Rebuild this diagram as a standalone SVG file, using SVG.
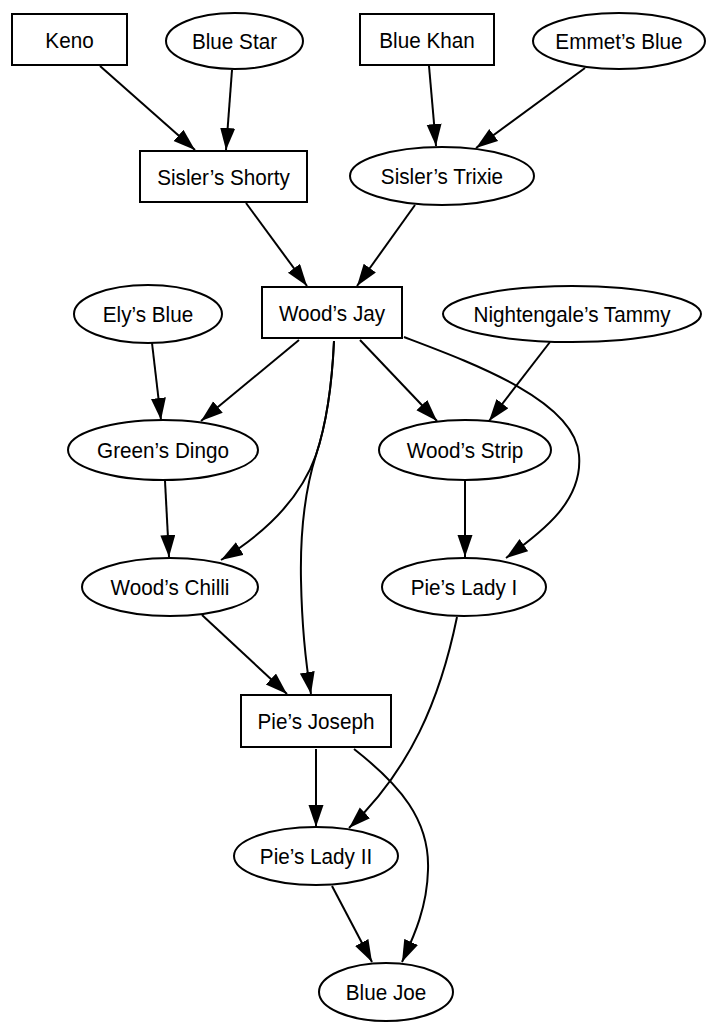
<svg xmlns="http://www.w3.org/2000/svg" width="707" height="1023" viewBox="0 0 707 1023">
<style>
.n{fill:#fff;stroke:#000;stroke-width:2}
.t{font-family:"Liberation Sans",Arial,sans-serif;font-size:22.5px;fill:#000;text-anchor:middle}
.e{fill:none;stroke:#000;stroke-width:2;marker-end:url(#ah)}
</style>
<defs>
<marker id="ah" markerUnits="userSpaceOnUse" markerWidth="23" markerHeight="16" refX="22" refY="7.5" orient="auto">
<path d="M0,0 L22,7.5 L0,15 z" fill="#000"/>
</marker>
</defs>
<rect width="707" height="1023" fill="#fff"/>
<g id="connectors">
<path class="e" d="M100,66 L195,150"/>
<path class="e" d="M232,70 L226,150"/>
<path class="e" d="M429,66 L436,146"/>
<path class="e" d="M585,68 L476,148"/>
<path class="e" d="M246,203 L307,286"/>
<path class="e" d="M415,205 L357,286"/>
<path class="e" d="M152,343 L161,420"/>
<path class="e" d="M299,340 L201,421"/>
<path class="e" d="M360,340 L437,421"/>
<path class="e" d="M550,342 L489,421"/>
<path class="e" d="M334,341 C332,385 326,425 316,455 C300,500 262,535 221,560"/>
<path class="e" d="M334,341 C332,385 326,425 316,455 C305,490 300,530 301,580 C302,630 306,665 311,694"/>
<path class="e" d="M165,481 L169,557"/>
<path class="e" d="M465,481 L465,557"/>
<path class="e" d="M404,337 C470,362 575,400 579,455 C583,500 545,530 506,558"/>
<path class="e" d="M202,615 L287,694"/>
<path class="e" d="M457,617 C440,700 410,770 349,828"/>
<path class="e" d="M316,749 L316,827"/>
<path class="e" d="M354,749 C400,785 430,820 428,870 C427,910 412,940 402,962"/>
<path class="e" d="M332,886 L372,962"/>
</g>
<g id="keno"><rect class="n" x="12" y="14" width="115" height="51"/><text class="t" transform="translate(69.5,47.5) scale(0.92,1)">Keno</text></g>
<g id="blue-star"><ellipse class="n" cx="234.5" cy="41" rx="68.5" ry="28"/><text class="t" transform="translate(234.5,48.5) scale(0.92,1)">Blue Star</text></g>
<g id="blue-khan"><rect class="n" x="360" y="14" width="134" height="51"/><text class="t" transform="translate(427,47.5) scale(0.92,1)">Blue Khan</text></g>
<g id="emmets-blue"><ellipse class="n" cx="619" cy="41" rx="86" ry="28"/><text class="t" transform="translate(619,48.5) scale(0.92,1)">Emmet’s Blue</text></g>
<g id="sislers-shorty"><rect class="n" x="140" y="151" width="167" height="51"/><text class="t" transform="translate(223.5,184.5) scale(0.92,1)">Sisler’s Shorty</text></g>
<g id="sislers-trixie"><ellipse class="n" cx="442" cy="176" rx="92" ry="29"/><text class="t" transform="translate(442,183.5) scale(0.92,1)">Sisler’s Trixie</text></g>
<g id="woods-jay"><rect class="n" x="262" y="287" width="140" height="51"/><text class="t" transform="translate(332,320.5) scale(0.92,1)">Wood’s Jay</text></g>
<g id="elys-blue"><ellipse class="n" cx="148" cy="314" rx="74" ry="29"/><text class="t" transform="translate(148,321.5) scale(0.92,1)">Ely’s Blue</text></g>
<g id="nightengales-tammy"><ellipse class="n" cx="572" cy="314" rx="129" ry="28"/><text class="t" transform="translate(572,321.5) scale(0.92,1)">Nightengale’s Tammy</text></g>
<g id="greens-dingo"><ellipse class="n" cx="163" cy="450" rx="95" ry="30"/><text class="t" transform="translate(163,457.5) scale(0.92,1)">Green’s Dingo</text></g>
<g id="woods-strip"><ellipse class="n" cx="465" cy="450" rx="86" ry="30"/><text class="t" transform="translate(465,457.5) scale(0.92,1)">Wood’s Strip</text></g>
<g id="woods-chilli"><ellipse class="n" cx="170" cy="587" rx="88" ry="29"/><text class="t" transform="translate(170,594.5) scale(0.92,1)">Wood’s Chilli</text></g>
<g id="pies-lady-i"><ellipse class="n" cx="464" cy="587" rx="82" ry="29"/><text class="t" transform="translate(464,594.5) scale(0.92,1)">Pie’s Lady I</text></g>
<g id="pies-joseph"><rect class="n" x="241" y="695" width="150" height="52"/><text class="t" transform="translate(316,728.5) scale(0.92,1)">Pie’s Joseph</text></g>
<g id="pies-lady-ii"><ellipse class="n" cx="316" cy="856" rx="82" ry="29"/><text class="t" transform="translate(316,863.5) scale(0.92,1)">Pie’s Lady II</text></g>
<g id="blue-joe"><ellipse class="n" cx="386" cy="992" rx="67" ry="29"/><text class="t" transform="translate(386,999.5) scale(0.92,1)">Blue Joe</text></g>
</svg>
